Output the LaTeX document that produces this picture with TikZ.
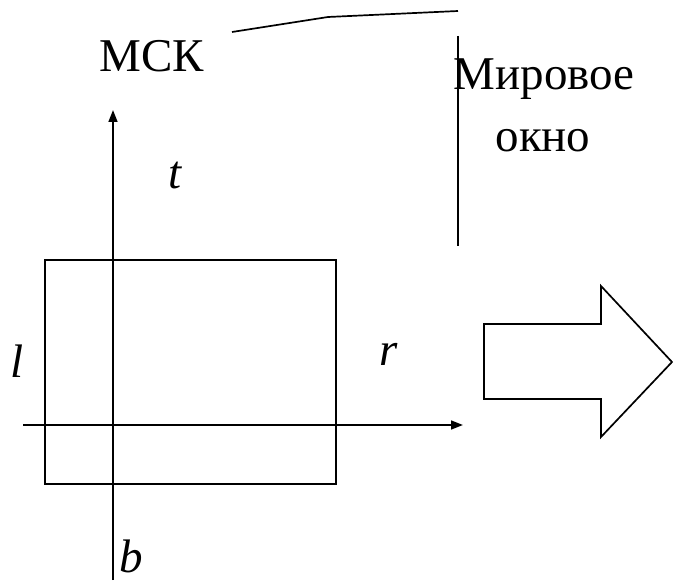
\documentclass[tikz,border=0pt]{standalone}
\usepackage{fontspec}
\setmainfont{Liberation Serif}
\usetikzlibrary{arrows.meta}
\tikzset{
  ln/.style={line width=1.7pt, black},
  axis/.style={ln, -{Triangle[length=12pt,width=9pt]}},
  txt/.style={font=\fontsize{47}{50}\selectfont, inner sep=0pt, anchor=base},
  itxt/.style={txt, font=\fontsize{47}{50}\selectfont\itshape}
}
\begin{document}
\begin{tikzpicture}[x=1pt,y=-1pt]
\useasboundingbox (0,0) rectangle (673,583);
% top polyline and vertical line
\coordinate (p1) at (232,32);
\coordinate (p2) at (328,17);
\coordinate (p3) at (458,11);
\draw[ln] (p1) -- (p2) -- (p3);
\coordinate (v1) at (458,36);
\coordinate (v2) at (458,246);
\draw[ln] (v1) -- (v2);
% texts
\node[txt] (msk) at (152,72) {МСК};
\node[txt] (mir) at (544,90) {Мировое};
\node[txt] (okno) at (543,152) {окно};
% rectangle
\draw[ln] (45,260) rectangle (336,484);
% axes
\coordinate (ys) at (113,580);
\coordinate (ye) at (113,110);
\coordinate (xs) at (23,425);
\coordinate (xe) at (463,425);
\draw[axis] (ys) -- (ye);
\draw[axis] (xs) -- (xe);
% labels
\node[itxt] (t) at (175,189) {t};
\node[itxt] (l) at (17,377) {l};
\node[itxt] (r) at (389,365) {r};
\node[itxt] (b) at (131,572) {b};
% big arrow
\draw[ln, line join=miter] (484,324) -- (601,324) -- (601,286) -- (672,362) -- (601,437) -- (601,399) -- (484,399) -- cycle;
\end{tikzpicture}
\end{document}
